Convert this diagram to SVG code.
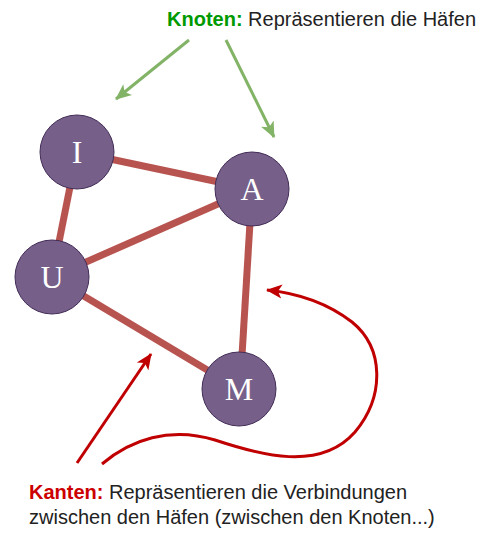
<svg xmlns="http://www.w3.org/2000/svg" width="481" height="533" viewBox="0 0 481 533">
<defs>
<style>
.edge{stroke:#b85450;stroke-width:7;fill:none}
.node circle{fill:#76608a;stroke:#432d57;stroke-width:1}
.node text{fill:#ffffff;font-family:"Liberation Serif",serif;font-size:32px;text-anchor:middle}
.g{stroke:#82b366;stroke-width:3;fill:none}
.r{stroke:#c00000;stroke-width:3;fill:none}
.t{font-family:"Liberation Sans",Arial,sans-serif;font-size:20px;fill:#222222}
</style>
<marker id="ar" markerWidth="16" markerHeight="16" viewBox="0 0 16 16" refX="15" refY="8" orient="auto" markerUnits="userSpaceOnUse">
<path d="M0,1 L16,8 L0,15 L4,8 Z" fill="#c00000"/>
</marker>
<marker id="ag2" markerWidth="16" markerHeight="16" viewBox="0 0 16 16" refX="15" refY="8" orient="auto" markerUnits="userSpaceOnUse">
<path d="M0,1 L16,8 L0,15 L4,8 Z" fill="#82b366"/>
</marker>
</defs>
<g id="connectors">
<line class="edge" x1="77" y1="152" x2="252" y2="189"/>
<line class="edge" x1="77" y1="152" x2="52" y2="277"/>
<line class="edge" x1="52" y1="277" x2="252" y2="189"/>
<line class="edge" x1="52" y1="277" x2="239" y2="389"/>
<line class="edge" x1="252" y1="189" x2="240" y2="389"/>
<line class="g" x1="189" y1="40" x2="116" y2="99" marker-end="url(#ag2)"/>
<line class="g" x1="226" y1="40" x2="274" y2="137" marker-end="url(#ag2)"/>
<line class="r" x1="77" y1="463" x2="151" y2="354" marker-end="url(#ar)"/>
<path class="r" d="M102 464 C130 440,170 426,215 440 C260 455,320 472,355 432 C385 396,384 348,352 322 C326 302,296 293,267 290" marker-end="url(#ar)"/>
</g>
<g id="node-I" class="node"><circle cx="77" cy="152" r="37"/><text x="77" y="163">I</text></g>
<g id="node-A" class="node"><circle cx="252" cy="189" r="37"/><text x="252" y="200">A</text></g>
<g id="node-U" class="node"><circle cx="52" cy="277" r="37"/><text x="52" y="288">U</text></g>
<g id="node-M" class="node"><circle cx="239" cy="389" r="37"/><text x="239" y="400">M</text></g>
<g id="label-knoten"><text class="t" x="167" y="26"><tspan font-weight="bold" fill="#009900">Knoten:</tspan> Repräsentieren die Häfen</text></g>
<g id="label-kanten"><text class="t" x="29" y="499"><tspan font-weight="bold" fill="#cc0000">Kanten:</tspan> Repräsentieren die Verbindungen</text>
<text class="t" x="29" y="524">zwischen den Häfen (zwischen den Knoten...)</text></g>
</svg>
